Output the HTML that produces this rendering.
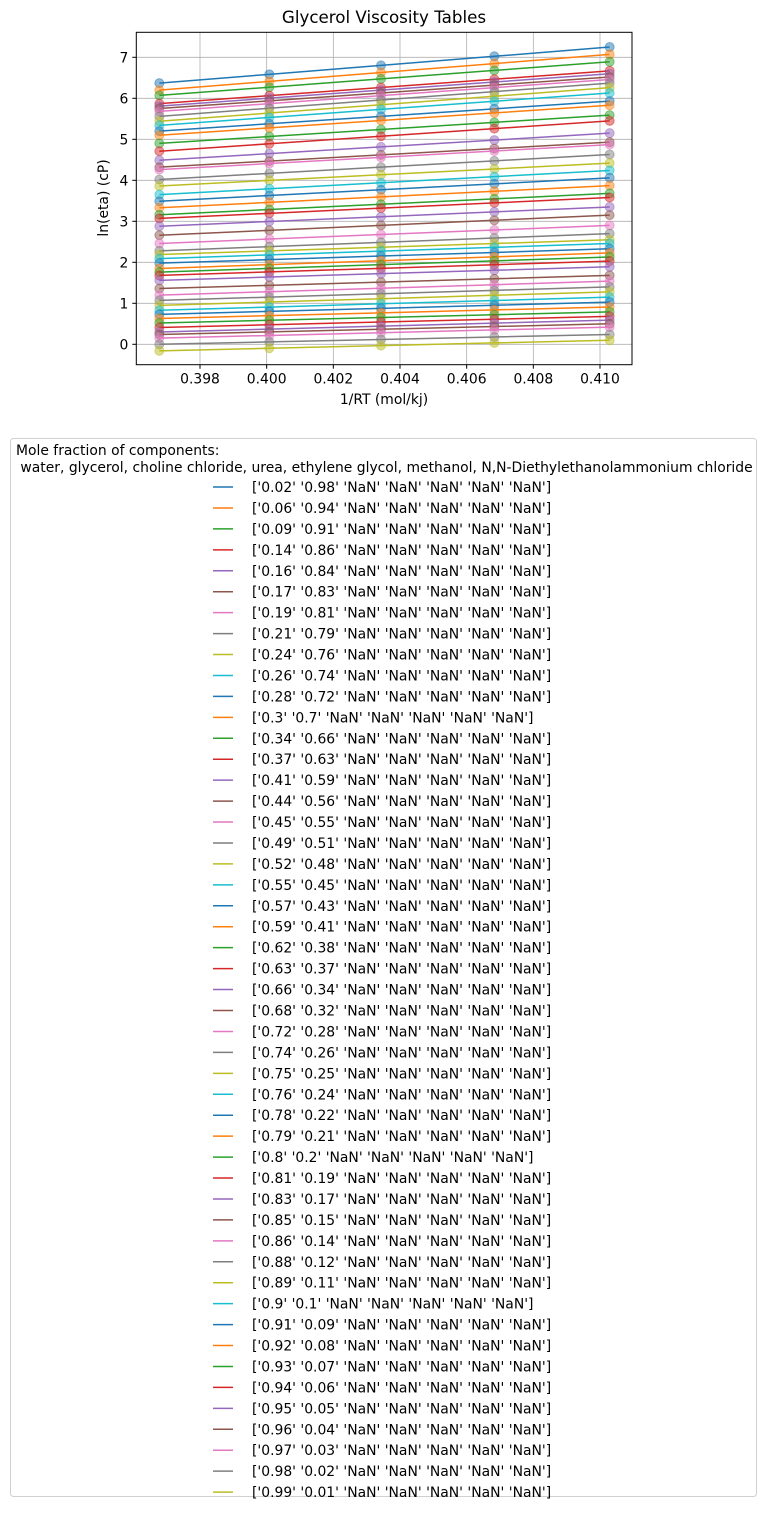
<!DOCTYPE html>
<html><head><meta charset="utf-8"><style>
body{margin:0;background:#fff;width:767px;height:1516px;overflow:hidden;font-family:"DejaVu Sans","Liberation Sans",sans-serif;}
svg text{font-family:"DejaVu Sans","Liberation Sans",sans-serif;}
</style></head><body>
<svg id="chart" width="767" height="1516" xmlns="http://www.w3.org/2000/svg"></svg>
<script>
const xValues=[0.39678,0.40008,0.40343,0.40683,0.41029];
const water=['0.02','0.06','0.09','0.14','0.16','0.17','0.19','0.21','0.24','0.26','0.28','0.3','0.34','0.37','0.41','0.44','0.45','0.49','0.52','0.55','0.57','0.59','0.62','0.63','0.66','0.68','0.72','0.74','0.75','0.76','0.78','0.79','0.8','0.81','0.83','0.85','0.86','0.88','0.89','0.9','0.91','0.92','0.93','0.94','0.95','0.96','0.97','0.98','0.99'];
const glycerol=['0.98','0.94','0.91','0.86','0.84','0.83','0.81','0.79','0.76','0.74','0.72','0.7','0.66','0.63','0.59','0.56','0.55','0.51','0.48','0.45','0.43','0.41','0.38','0.37','0.34','0.32','0.28','0.26','0.25','0.24','0.22','0.21','0.2','0.19','0.17','0.15','0.14','0.12','0.11','0.1','0.09','0.08','0.07','0.06','0.05','0.04','0.03','0.02','0.01'];
const lnEta30C=[6.37,6.20,6.07,5.87,5.81,5.75,5.68,5.56,5.44,5.34,5.20,5.10,4.90,4.71,4.49,4.32,4.26,4.02,3.86,3.65,3.49,3.33,3.16,3.07,2.88,2.66,2.46,2.28,2.19,2.09,1.98,1.85,1.76,1.68,1.56,1.36,1.20,1.07,0.95,0.83,0.73,0.63,0.52,0.41,0.30,0.24,0.15,0.00,-0.16];
const lnEta20C=[7.25,7.07,6.89,6.67,6.60,6.52,6.46,6.37,6.26,6.13,5.93,5.83,5.59,5.45,5.15,4.93,4.87,4.63,4.42,4.24,4.06,3.87,3.68,3.58,3.35,3.15,2.90,2.70,2.55,2.46,2.33,2.23,2.13,2.03,1.89,1.68,1.54,1.40,1.28,1.15,1.03,0.91,0.79,0.68,0.59,0.50,0.42,0.24,0.10];
const xTicks=[0.398,0.400,0.402,0.404,0.406,0.408,0.410];
const yTicks=[0,1,2,3,4,5,6,7];
const colors=['#1f77b4','#ff7f0e','#2ca02c','#d62728','#9467bd','#8c564b','#e377c2','#7f7f7f','#bcbd22','#17becf'];
const NS='http://www.w3.org/2000/svg';
const svg=document.getElementById('chart');
const L=136.3,R=632,T=32.3,B=364.7;
function xs(v){return 200+(v-0.398)*33333;}
function ys(v){return 344.3-v*41;}
function mk(tag,attrs,parent){const e=document.createElementNS(NS,tag);for(const k in attrs)e.setAttribute(k,attrs[k]);(parent||svg).appendChild(e);return e;}
const grid=mk('g',{});


xTicks.forEach(t=>{mk('line',{x1:xs(t),x2:xs(t),y1:T,y2:B,stroke:'#b0b0b0','stroke-width':0.8},grid);});
yTicks.forEach(t=>{mk('line',{x1:L,x2:R,y1:ys(t),y2:ys(t),stroke:'#b0b0b0','stroke-width':0.8},grid);});
const plot=mk('g',{});


water.forEach((w,i)=>{
  const c=colors[i%10];
  const g=mk('g',{},plot);
  
  
  const x0=xValues[0],x1=xValues[xValues.length-1];
  const pts=xValues.map(x=>[xs(x),ys(lnEta30C[i]+(lnEta20C[i]-lnEta30C[i])*(x-x0)/(x1-x0))]);
  pts.forEach(p=>{const m=mk('circle',{cx:p[0],cy:p[1],r:4.5,fill:c,'fill-opacity':0.5,stroke:c,'stroke-opacity':0.5},g);
    
    });
  const ln=mk('polyline',{points:pts.map(p=>p.join(',')).join(' '),fill:'none',stroke:c,'stroke-width':1.5},g);
  
  
});
const fr=mk('rect',{x:L,y:T,width:R-L,height:B-T,fill:'none',stroke:'#000','stroke-width':1});


xTicks.forEach(t=>{mk('line',{x1:xs(t),x2:xs(t),y1:B,y2:B+4,stroke:'#000'});
  const tx=mk('text',{x:xs(t),y:B+19,'text-anchor':'middle','font-size':13.9});tx.textContent=t.toFixed(3);
  
  });
yTicks.forEach(t=>{mk('line',{x1:L-4,x2:L,y1:ys(t),y2:ys(t),stroke:'#000'});
  const tx=mk('text',{x:L-8,y:ys(t)+5,'text-anchor':'end','font-size':13.9});tx.textContent=t;
  
  });
const title=mk('text',{x:384,y:23,'text-anchor':'middle','font-size':16.7});title.textContent='Glycerol Viscosity Tables';


const xl=mk('text',{x:384,y:404,'text-anchor':'middle','font-size':13.9});xl.textContent='1/RT (mol/kj)';


const yl=mk('text',{x:0,y:0,'text-anchor':'middle','font-size':13.9,transform:'translate(108,198) rotate(-90)'});yl.textContent='ln(eta) (cP)';


const lg=mk('g',{});


mk('rect',{x:10.5,y:438.5,width:746,height:1058,rx:3,fill:'#fff',stroke:'#d0d0d0'},lg);
const lt1=mk('text',{x:16,y:455,'font-size':13.9},lg);lt1.textContent='Mole fraction of components:';


const lt2=mk('text',{x:16,y:472,'font-size':13.9},lg);lt2.textContent='\u00a0water, glycerol, choline chloride, urea, ethylene glycol, methanol, N,N-Diethylethanolammonium chloride';


water.forEach((w,i)=>{
  const y=487+i*20.94;
  const e=mk('g',{},lg);
  
  
  mk('line',{x1:213,x2:233,y1:y,y2:y,stroke:colors[i%10],'stroke-width':1.5},e);
  const t=mk('text',{x:252,y:y+5,'font-size':13.9},e);
  t.textContent="['"+w+"' '"+glycerol[i]+"' 'NaN' 'NaN' 'NaN' 'NaN' 'NaN']";
});
</script>
</body></html>
